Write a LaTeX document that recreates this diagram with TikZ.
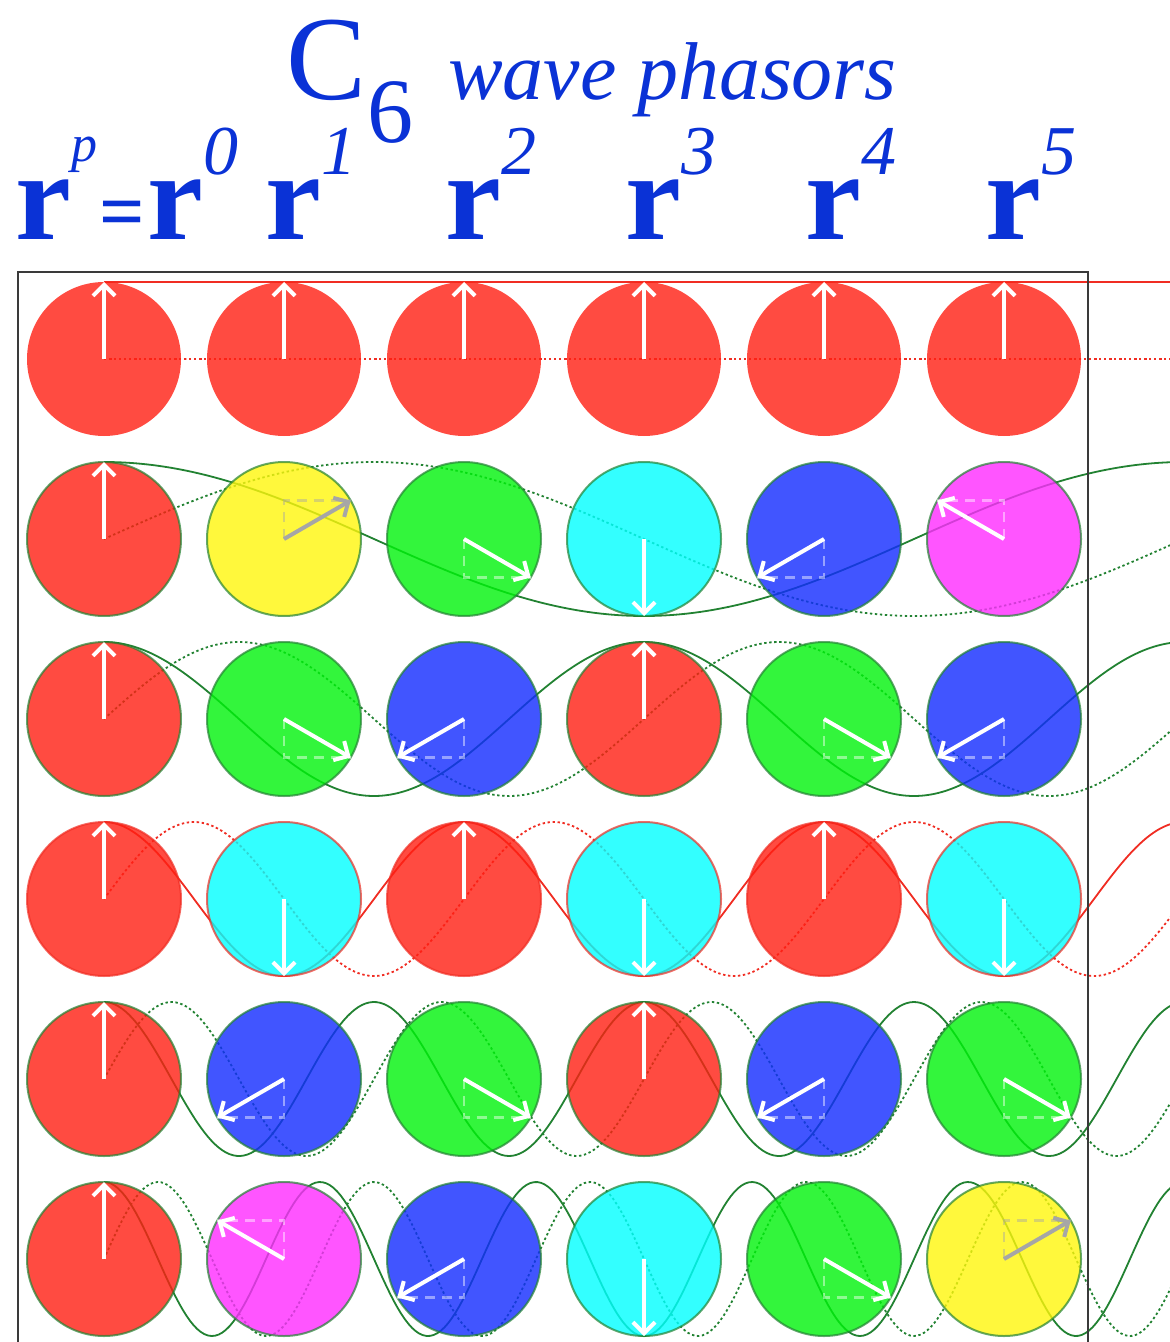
\documentclass[tikz,border=0pt]{standalone}
\usepackage{fontspec}
\setmainfont{Liberation Serif}
\usepackage{xcolor}
\usepackage{tikz}
\usetikzlibrary{arrows.meta, positioning, calc}
\definecolor{PhasorBlue}{HTML}{0A32D6}
\definecolor{hue0}{HTML}{FF1E12}
\definecolor{hue1}{HTML}{FFF60B}
\definecolor{hue2}{HTML}{00F30B}
\definecolor{hue3}{HTML}{00FFFF}
\definecolor{hue4}{HTML}{122BFF}
\definecolor{hue5}{HTML}{FF2BFF}
\definecolor{WaveGreen}{HTML}{228232}
\definecolor{WaveRed}{HTML}{F02D23}
\definecolor{FrameGray}{HTML}{3A3A3A}
\newcommand{\BigRFont}{\fontsize{63}{63}\selectfont\bfseries}
\newcommand{\SupFont}{\fontsize{35}{35}\selectfont\itshape}

\begin{document}
\begin{tikzpicture}[x=0.5pt, y=-0.5pt,
  every node/.style={text=PhasorBlue, inner sep=0pt, outer sep=0pt},
  ball/.style={circle, minimum size=77pt, fill opacity=0.8, draw opacity=0.7, line width=1pt},
  phasor/.style={line width=2pt, -{Straight Barb[length=5.5pt, width=11pt]}},
  proj/.style={line width=1.4pt, dash pattern=on 5pt off 3.5pt, draw opacity=0.45},
  realwave/.style={line width=0.9pt},
  imagwave/.style={line width=0.9pt, dash pattern=on 1.2pt off 1.3pt}]
  \useasboundingbox (0,0) rectangle (1170,1342);
  \clip (0,0) rectangle (1170,1342);

  % title
  \node[anchor=base west, font=\fontsize{60}{60}\selectfont] (bigC) at (286,100) {C};
  \node[anchor=base west, font=\fontsize{46}{46}\selectfont] (sub6) at (367,143) {6};
  \node[anchor=base west, font=\fontsize{41}{41}\selectfont\itshape] (title) at (448,100) {wave phasors};

  % r^p = r^0 r^1 ... r^5
  \node[anchor=base west, font=\BigRFont] (rp) at (15,240) {r};
  \node[anchor=base west, font=\fontsize{26}{26}\selectfont\itshape] (supp) at ([shift={(1,-78)}]rp.base east) {p};
  \node[font=\fontsize{40}{40}\selectfont\bfseries] (eq) at (122,220) {=};
  \node[anchor=base west, font=\BigRFont] (r0) at (147,240) {r};
  \node[anchor=base west, font=\SupFont] (sup0) at ([shift={(1,-65)}]r0.base east) {0};
  \foreach \p in {1,...,5} {
    \node[anchor=base west, font=\BigRFont] (r\p) at (85+180*\p,240) {r};
    \node[anchor=base west, font=\SupFont] (sup\p) at ([shift={(1,-65)}]r\p.base east) {\p};
  }

  % waves: solid = vertical part, dotted = horizontal part
  \foreach \m in {0,...,5} {
    \pgfmathsetmacro\cy{359+180*\m}
    \ifnum\m=0 \def\wc{WaveRed}\else\ifnum\m=3 \def\wc{WaveRed}\else\def\wc{WaveGreen}\fi\fi
    \draw[realwave, draw=\wc] plot[domain=104:1175, samples=300] (\x, {\cy-77*cos(\m*(\x-104)/3)});
    \draw[imagwave, draw=\wc] plot[domain=104:1175, samples=300] (\x, {\cy-77*sin(\m*(\x-104)/3)});
  }

  % phasor balls
  \foreach \m in {0,...,5} {
    \ifnum\m=0 \def\oc{none}\else\ifnum\m=3 \def\oc{WaveRed}\else\def\oc{WaveGreen}\fi\fi
    \foreach \p in {0,...,5} {
      \pgfmathtruncatemacro\k{mod(\m*\p,6)}
      \node[ball, fill=hue\k, draw=\oc] (b\m\p) at (104+180*\p, 359+180*\m) {};
    }
  }

  \draw[FrameGray, line width=1.2pt] (18,1360) |- (1088,272) -- (1088,1360);

  % phasor arrows and their projections
  \foreach \m in {0,...,5} {
    \foreach \p in {0,...,5} {
      \pgfmathtruncatemacro\k{mod(\m*\p,6)}
      \pgfmathtruncatemacro\ang{mod(450-60*\k,360)}
      \ifnum\k=1 \def\ac{gray!70}\else\def\ac{white}\fi
      \ifnum\k=0 \else\ifnum\k=3 \else
        \draw[proj, draw=\ac] (b\m\p.center) |- (b\m\p.\ang);
      \fi\fi
      \draw[phasor, draw=\ac] (b\m\p.center) -- (b\m\p.\ang);
    }
  }
\end{tikzpicture}
\end{document}
